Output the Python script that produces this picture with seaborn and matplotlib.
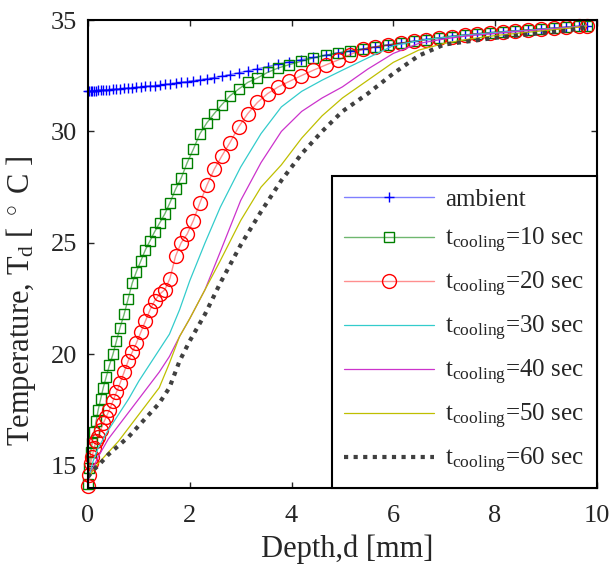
import numpy as np
import pandas as pd
import matplotlib
matplotlib.use("Agg")
import matplotlib.pyplot as plt
import seaborn as sns

# -----------------------------
# DATA
# -----------------------------
depth_fine = [0, 0.02, 0.05, 0.08, 0.12, 0.16, 0.2, 0.25, 0.3, 0.36, 0.42, 0.49, 0.56, 0.63,
              0.71, 0.79, 0.87, 0.95, 1.04, 1.13, 1.22, 1.31, 1.41, 1.51, 1.61, 1.72, 1.83,
              1.95, 2.07, 2.2, 2.34, 2.48, 2.63, 2.79, 2.96, 3.14, 3.33, 3.53, 3.74, 3.96,
              4.19, 4.43, 4.67, 4.91, 5.15, 5.4, 5.65, 5.9, 6.15, 6.4, 6.65, 6.9, 7.15, 7.4,
              7.65, 7.9, 8.15, 8.4, 8.65, 8.9, 9.15, 9.4, 9.65, 9.8]

t_ambient = [31.80, 31.80, 31.81, 31.81, 31.82, 31.83, 31.84, 31.85, 31.86, 31.87, 31.88, 31.89,
             31.90, 31.92, 31.93, 31.95, 31.96, 31.98, 32.00, 32.02, 32.04, 32.06, 32.08, 32.11,
             32.14, 32.17, 32.20, 32.24, 32.28, 32.32, 32.37, 32.42, 32.48, 32.55, 32.63, 32.72,
             32.81, 32.91, 33.02, 33.12, 33.22, 33.32, 33.42, 33.52, 33.61, 33.70, 33.80, 33.89,
             33.97, 34.05, 34.13, 34.20, 34.27, 34.33, 34.39, 34.44, 34.48, 34.52, 34.56, 34.60,
             34.64, 34.68, 34.72, 34.75]

t_10 = [14.2, 14.9, 15.6, 16.0, 16.5, 17.0, 17.5, 18.0, 18.5, 19.0, 19.5, 20.0, 20.6, 21.2,
        21.8, 22.5, 23.2, 23.7, 24.2, 24.7, 25.1, 25.5, 25.9, 26.3, 26.8, 27.4, 27.9, 28.6,
        29.2, 29.9, 30.4, 30.8, 31.2, 31.6, 31.9, 32.2, 32.4, 32.65, 32.85, 33.0, 33.15, 33.3,
        33.42, 33.52, 33.61, 33.70, 33.79, 33.88, 33.96, 34.04, 34.12, 34.19, 34.26, 34.32,
        34.38, 34.43, 34.47, 34.51, 34.55, 34.59, 34.63, 34.67, 34.71, 34.74]

t_20 = [14.1, 14.6, 15.1, 15.4, 15.8, 16.1, 16.3, 16.6, 16.9, 17.2, 17.5, 17.9, 18.3, 18.7,
        19.2, 19.7, 20.1, 20.5, 21.0, 21.5, 22.0, 22.4, 22.7, 22.9, 23.4, 24.4, 25.0, 25.4,
        26.0, 26.8, 27.6, 28.3, 28.9, 29.5, 30.2, 30.8, 31.3, 31.7, 32.0, 32.25, 32.5, 32.75,
        32.98, 33.2, 33.45, 33.68, 33.8, 33.88, 33.96, 34.04, 34.12, 34.19, 34.26, 34.32,
        34.38, 34.43, 34.47, 34.51, 34.55, 34.59, 34.63, 34.67, 34.71, 34.74]

depth_coarse = [0, 0.1, 0.2, 0.4, 0.6, 0.8, 1.0, 1.2, 1.4, 1.6, 1.8, 2.0, 2.3, 2.6, 3.0,
                3.4, 3.8, 4.2, 4.6, 5.0, 5.5, 6.0, 6.5, 7.0, 7.5, 8.0, 8.5, 9.0, 9.4, 9.8]

t_30 = [14.3, 15.2, 15.8, 16.6, 17.3, 18.0, 18.8, 19.5, 20.2, 20.9, 22.0, 23.3, 25.0, 26.6,
        28.4, 29.9, 31.1, 31.8, 32.3, 32.75, 33.3, 33.85, 34.08, 34.22, 34.34, 34.44, 34.52,
        34.6, 34.66, 34.74]

t_40 = [14.3, 14.9, 15.4, 16.2, 16.8, 17.4, 18.0, 18.6, 19.2, 19.9, 20.8, 21.6, 22.9, 24.6,
        26.9, 28.6, 30.0, 30.9, 31.5, 32.0, 32.8, 33.5, 33.95, 34.15, 34.3, 34.4, 34.5,
        34.58, 34.65, 34.74]

t_50 = [14.4, 14.8, 15.1, 15.6, 16.1, 16.7, 17.3, 17.9, 18.5, 19.6, 20.8, 21.6, 22.9, 24.2,
        26.0, 27.5, 28.5, 29.7, 30.7, 31.5, 32.3, 33.1, 33.65, 33.95, 34.15, 34.3, 34.42,
        34.53, 34.62, 34.72]

t_60 = [14.5, 14.8, 15.0, 15.5, 15.9, 16.3, 16.8, 17.3, 17.8, 18.5, 19.7, 20.6, 21.8, 23.2,
        24.9, 26.4, 27.8, 29.0, 30.0, 30.9, 31.7, 32.6, 33.4, 33.9, 34.05, 34.2, 34.32,
        34.43, 34.52, 34.68]

labels = ["ambient"] + [r"t$_{\mathrm{cooling}}$=%d sec" % s for s in (10, 20, 30, 40, 50, 60)]

# -----------------------------
# STYLE
# -----------------------------
sns.set_style("ticks")
plt.rcParams["font.family"] = ["Liberation Serif", "DejaVu Serif"]
plt.rcParams["mathtext.fontset"] = "custom"
plt.rcParams["mathtext.rm"] = "Liberation Serif"
plt.rcParams["mathtext.it"] = "Liberation Serif:italic"

fig, ax = plt.subplots(figsize=(6.09, 5.64), dpi=100)
fig.subplots_adjust(left=0.1445, right=0.980, top=0.9645, bottom=0.1348)

# -----------------------------
# CURVES
# -----------------------------
sns.lineplot(x=depth_fine, y=t_ambient, ax=ax, color="#0000ff80", lw=1,
             marker="+", markersize=7, markeredgecolor="#0000ff", markeredgewidth=1,
             sort=False, estimator=None, label=labels[0], clip_on=False)
sns.lineplot(x=depth_fine, y=t_10, ax=ax, color="#00800090", lw=1,
             marker="s", markersize=6.5, markerfacecolor="none", markeredgecolor="#008000",
             markeredgewidth=1, sort=False, estimator=None, label=labels[1], clip_on=False)
sns.lineplot(x=depth_fine, y=t_20, ax=ax, color="#ff000070", lw=1,
             marker="o", markersize=10, markerfacecolor="none", markeredgecolor="#ff0000",
             markeredgewidth=1, sort=False, estimator=None, label=labels[2], clip_on=False)
sns.lineplot(x=depth_coarse, y=t_30, ax=ax, color="#33cccc", lw=0.9,
             sort=False, estimator=None, label=labels[3])
sns.lineplot(x=depth_coarse, y=t_40, ax=ax, color="#cc33cc", lw=0.9,
             sort=False, estimator=None, label=labels[4])
sns.lineplot(x=depth_coarse, y=t_50, ax=ax, color="#bfbf00", lw=0.9,
             sort=False, estimator=None, label=labels[5])
sns.lineplot(x=depth_coarse, y=t_60, ax=ax, color="#404040", lw=3, linestyle=(0, (1, 1.3)),
             sort=False, estimator=None, label=labels[6])

# -----------------------------
# AXES
# -----------------------------
ax.set_xlim(0, 10)
ax.set_ylim(14, 35)
ax.set_xticks([0, 2, 4, 6, 8, 10])
ax.set_yticks([15, 20, 25, 30, 35])
ax.tick_params(direction="in", top=True, right=True, length=4, width=1, labelsize=19, pad=8)
ax.tick_params(axis="x", pad=12)
for sp in ax.spines.values():
    sp.set_linewidth(1.5)
    sp.set_visible(True)
    sp.set_color("black")

ax.set_xlabel("Depth,d [mm]", fontsize=22)
ax.xaxis.set_label_coords(0.51, -0.10)
ax.set_ylabel(r"Temperature, T$_{\mathrm{d}}$ [ $^\circ$ C ]", fontsize=22)
ax.yaxis.set_label_coords(-0.098, 0.40)

leg = ax.legend(loc="lower right", borderaxespad=0, fontsize=18, frameon=True, fancybox=False,
                edgecolor="black", handlelength=3.6, numpoints=1, labelspacing=0.6,
                borderpad=0.5, handletextpad=0.45)
leg.get_frame().set_linewidth(1.5)
leg.get_frame().set_alpha(1)
leg.set_zorder(5)

fig.savefig("out.png", dpi=100)
plt.close(fig)
